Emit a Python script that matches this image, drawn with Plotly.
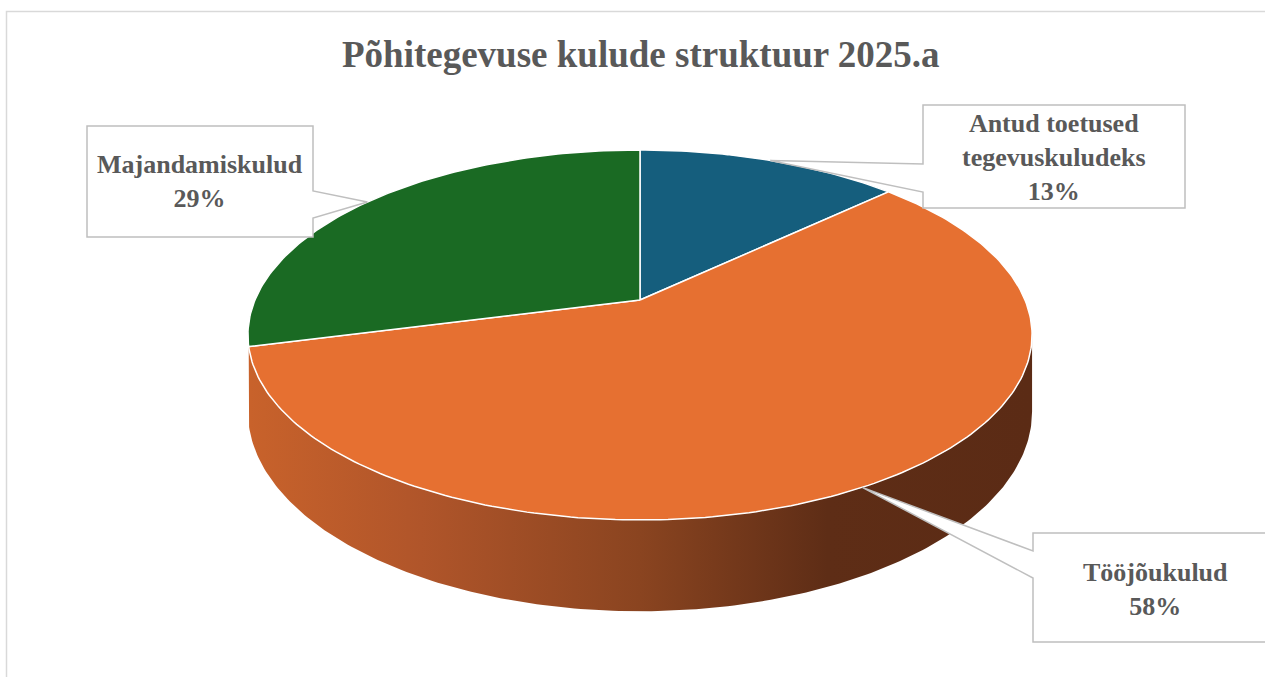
import numpy as np
import plotly.graph_objects as go

# ---- data ----
categories = ["Antud toetused<br>tegevuskuludeks", "Tööjõukulud", "Majandamiskulud"]
values = [13, 58, 29]
colors = ["#155E7D", "#E67031", "#1A6A23"]
side_scales = [
    [[0, "#0E4259"], [1, "#0A2F40"]],
    [[0, "#C8622B"], [0.22, "#B0552A"], [0.5, "#8A4420"], [0.74, "#5E2D16"], [1, "#5B2B15"]],
    [[0, "#17601F"], [1, "#0C3511"]],
]
title_text = "Põhitegevuse kulude struktuur 2025.a"

# ---- geometry (layout, in pixel-like axis units) ----
W, H = 1265, 677
cx, cy = 640, 300          # apex of the slices on screen
B, A = 385, 178.4          # horizontal / vertical radius factors
p = 0.189                  # perspective factor
T = 74                     # thickness of the disc


def proj(phi, drop=0.0):
    X, Z = np.sin(phi), np.cos(phi)
    d = 1 + p * Z
    return cx + B * X / d, cy - A * Z / d + drop / d


total = sum(values)
fracs = [v / total for v in values]
starts = np.cumsum([0] + fracs[:-1]) * 2 * np.pi
ends = starts + np.array(fracs) * 2 * np.pi

fig = go.Figure()

# sides (front visible band); tiny slivers are not drawn
vis_a = np.arccos(-p)
vis_b = 2 * np.pi - vis_a
for i in range(len(values)):
    a0, a1 = max(starts[i], vis_a), min(ends[i], vis_b)
    if a1 - a0 < np.radians(5):
        continue
    ph = np.linspace(a0, a1, 200)
    xt, yt = proj(ph)
    xb = proj(ph[::-1])[0]
    yb = proj(ph[::-1], drop=T)[1]
    fig.add_trace(go.Scatter(
        x=np.concatenate([xt, xb]), y=np.concatenate([yt, yb]),
        mode="lines", fill="toself", line=dict(width=0, color="rgba(0,0,0,0)"),
        fillgradient=dict(type="horizontal", colorscale=side_scales[i], start=250, stop=1030),
        hoverinfo="skip", showlegend=False))

# tops
for i in range(len(values)):
    ph = np.linspace(starts[i], ends[i], max(20, int(400 * fracs[i])))
    xa, ya = proj(ph)
    fig.add_trace(go.Scatter(
        x=np.concatenate([[cx], xa, [cx]]), y=np.concatenate([[cy], ya, [cy]]),
        mode="lines", fill="toself", fillcolor=colors[i],
        line=dict(color="white", width=1.5),
        hoverinfo="skip", showlegend=False))

# ---- callout labels ----
boxes = [  # (x0, y0, x1, y1, side, wedge_y0, wedge_y1)
    (923, 105, 1185, 208, "left", 164, 192),
    (1033, 533, 1300, 642, "left", 551, 578),
    (87, 126, 313, 237, "right", 191, 218),
]
text_y = [157, 589, 181]
text_x = [1054, 1155, 200]

shapes = []
annotations = []
for i, (x0, y0, x1, y1, side, w0, w1) in enumerate(boxes):
    mid = (starts[i] + ends[i]) / 2
    tx, ty = proj(mid)
    if side == "left":
        path = (f"M{x0},{y0} L{x1},{y0} L{x1},{y1} L{x0},{y1} L{x0},{w1} "
                f"L{tx:.1f},{ty:.1f} L{x0},{w0} Z")
    else:
        path = (f"M{x0},{y0} L{x1},{y0} L{x1},{w0} L{tx:.1f},{ty:.1f} "
                f"L{x1},{w1} L{x1},{y1} L{x0},{y1} Z")
    shapes.append(dict(type="path", path=path, xref="x", yref="y",
                       fillcolor="white", line=dict(color="#BFBFBF", width=1.5),
                       layer="above"))
    pct = round(values[i] / total * 100)
    annotations.append(dict(
        x=text_x[i], y=text_y[i], xref="x", yref="y",
        text=f"{categories[i]}<br>{pct}%", showarrow=False,
        xanchor="center", yanchor="middle", align="center",
        font=dict(family="Liberation Serif", size=26, color="#595959", weight="bold")))

# chart frame
shapes.append(dict(type="rect", xref="x", yref="y", x0=6.5, y0=11.5, x1=W + 20, y1=H + 20,
                   line=dict(color="#D9D9D9", width=1.5), fillcolor="rgba(0,0,0,0)",
                   layer="below"))

annotations.append(dict(
    x=641, y=54, xref="x", yref="y", text=title_text, showarrow=False,
    xanchor="center", yanchor="middle",
    font=dict(family="Liberation Serif", size=37, color="#595959", weight="bold")))

fig.update_layout(
    width=W, height=H, margin=dict(l=0, r=0, t=0, b=0),
    paper_bgcolor="white", plot_bgcolor="white",
    xaxis=dict(range=[0, W], visible=False, fixedrange=True),
    yaxis=dict(range=[H, 0], visible=False, fixedrange=True),
    shapes=shapes, annotations=annotations, showlegend=False,
)

fig.write_html("out.html", config={"displayModeBar": False},
               post_script="document.body.style.margin='0';document.body.style.overflow='hidden';")
